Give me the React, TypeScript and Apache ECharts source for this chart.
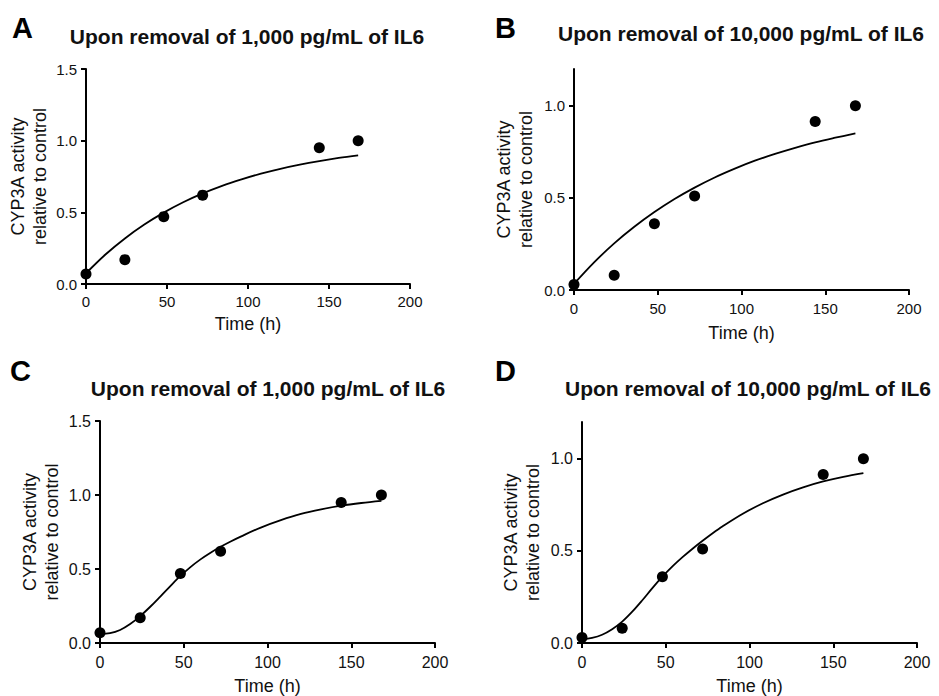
import React, { useEffect, useRef } from "react";
import * as echarts from "echarts";

// ---- text ----
const panelLetters = ["A", "B", "C", "D"];
const panelTitles = [
  "Upon removal of 1,000 pg/mL of IL6",
  "Upon removal of 10,000 pg/mL of IL6",
  "Upon removal of 1,000 pg/mL of IL6",
  "Upon removal of 10,000 pg/mL of IL6",
];
const yAxisName = "CYP3A activity\nrelative to control";
const xAxisName = "Time (h)";

// ---- ticks ----
const xTicks = [0, 50, 100, 150, 200];
const yTicks15 = [0, 0.5, 1.0, 1.5];
const yTicks12 = [0, 0.5, 1.0];

// ---- measured data ----
const sampleTimes = [0, 24, 48, 72, 144, 168];
const activity1000 = [0.07, 0.17, 0.47, 0.62, 0.95, 1.0];
const activity10000 = [0.03, 0.08, 0.36, 0.51, 0.915, 1.0];

// ---- fitted curves ----
const fitTimesExp = [0, 12, 24, 36, 48, 60, 72, 84, 96, 108, 120, 132, 144, 156, 168];
const fitExp1000 = [0.075, 0.206, 0.318, 0.415, 0.498, 0.57, 0.632, 0.685, 0.73, 0.77, 0.804, 0.833, 0.858, 0.88, 0.898];
const fitExp10000 = [0.033, 0.15, 0.253, 0.343, 0.423, 0.494, 0.556, 0.611, 0.659, 0.702, 0.739, 0.772, 0.802, 0.827, 0.85];

const fitTimesSig = [0, 6, 12, 18, 24, 30, 36, 42, 48, 54, 60, 66, 72, 78, 84, 96, 108, 120, 132, 144, 156, 168];
const fitSig1000 = [0.06, 0.066, 0.088, 0.128, 0.182, 0.245, 0.314, 0.385, 0.453, 0.513, 0.565, 0.61, 0.65, 0.686, 0.719, 0.78, 0.83, 0.872, 0.903, 0.928, 0.946, 0.96];
const fitSig10000 = [0.02, 0.028, 0.045, 0.075, 0.116, 0.17, 0.232, 0.298, 0.36, 0.416, 0.466, 0.512, 0.555, 0.596, 0.634, 0.702, 0.759, 0.806, 0.845, 0.877, 0.902, 0.922];

const FONT = "'Liberation Sans', Arial, Helvetica, sans-serif";

const zip = (xs: number[], ys: number[]) => xs.map((x, i) => [x, ys[i]]);

export default function App() {
  const ref = useRef<HTMLDivElement>(null);

  useEffect(() => {
    document.body.style.margin = "0";
    if (!ref.current) return;
    const chart = echarts.init(ref.current, null, { renderer: "svg" });

    const panels = [
      { grid: { left: 86, top: 69, width: 324, height: 215 }, yMax: 1.5, yTicks: yTicks15, fs: 15, yGap: 35, xGap: 31, lblMargin: 10,
        pts: activity1000, fitX: fitTimesExp, fitY: fitExp1000,
        letter: { x: 12, y: 28 }, title: { x: 247, y: 36 } },
      { grid: { left: 574, top: 69, width: 335, height: 221 }, yMax: 1.2, yTicks: yTicks12, fs: 15, yGap: 37, xGap: 34, lblMargin: 11,
        pts: activity10000, fitX: fitTimesExp, fitY: fitExp10000,
        letter: { x: 495, y: 28 }, title: { x: 741, y: 33 } },
      { grid: { left: 100, top: 421, width: 335, height: 223 }, yMax: 1.5, yTicks: yTicks15, fs: 16, yGap: 37, xGap: 34, lblMargin: 11,
        pts: activity1000, fitX: fitTimesSig, fitY: fitSig1000,
        letter: { x: 10, y: 371 }, title: { x: 268, y: 388 } },
      { grid: { left: 582, top: 422, width: 335, height: 222 }, yMax: 1.2, yTicks: yTicks12, fs: 16, yGap: 38, xGap: 34, lblMargin: 11,
        pts: activity10000, fitX: fitTimesSig, fitY: fitSig10000,
        letter: { x: 495, y: 371 }, title: { x: 748, y: 388 } },
    ];

    const mkAxisLine = () => ({ show: true, onZero: false, lineStyle: { color: "#000", width: 2 } });
    const mkAxisTick = (vals: number[]) => ({ show: true, length: 5, customValues: vals, lineStyle: { color: "#000", width: 2 } });

    const option: any = {
      animation: false,
      backgroundColor: "#fff",
      textStyle: { fontFamily: FONT },
      grid: panels.map((p) => ({ ...p.grid, containLabel: false })),
      xAxis: panels.map((p, i) => ({
        type: "value",
        gridIndex: i,
        min: 0,
        max: 200,
        interval: 50,
        name: xAxisName,
        nameLocation: "middle",
        nameGap: p.xGap,
        nameTextStyle: { fontSize: 18, color: "#111", fontFamily: FONT },
        axisLine: mkAxisLine(),
        axisTick: mkAxisTick(xTicks),
        axisLabel: { margin: p.lblMargin, fontSize: p.fs, color: "#111", fontFamily: FONT, customValues: xTicks },
        splitLine: { show: false },
      })),
      yAxis: panels.map((p, i) => ({
        type: "value",
        gridIndex: i,
        min: 0,
        max: p.yMax,
        interval: 0.5,
        name: yAxisName,
        nameLocation: "middle",
        nameRotate: 90,
        nameGap: p.yGap,
        nameTextStyle: { fontSize: 18, lineHeight: 22, color: "#111", fontFamily: FONT, align: "center" },
        axisLine: mkAxisLine(),
        axisTick: mkAxisTick(p.yTicks),
        axisLabel: {
          margin: 9,
          fontSize: p.fs,
          color: "#111",
          fontFamily: FONT,
          customValues: p.yTicks,
          formatter: (v: number) => v.toFixed(1),
        },
        splitLine: { show: false },
      })),
      series: panels.flatMap((p, i) => [
        {
          type: "line",
          xAxisIndex: i,
          yAxisIndex: i,
          data: zip(p.fitX, p.fitY),
          smooth: 0.35,
          symbol: "none",
          clip: false,
          lineStyle: { color: "#000", width: 1.8 },
          z: 3,
        },
        {
          type: "scatter",
          xAxisIndex: i,
          yAxisIndex: i,
          data: zip(sampleTimes, p.pts),
          symbol: "circle",
          symbolSize: 11,
          clip: false,
          itemStyle: { color: "#000", opacity: 1 },
          z: 4,
        },
      ]),
      graphic: panels.flatMap((p, i) => [
        {
          type: "text",
          left: p.letter.x,
          top: p.letter.y - 15,
          style: { text: panelLetters[i], font: `bold 29px ${FONT}`, fill: "#000" },
        },
        {
          type: "text",
          x: p.title.x,
          y: p.title.y,
          style: {
            text: panelTitles[i],
            font: `bold 21px ${FONT}`,
            fill: "#111",
            textAlign: "center",
            textVerticalAlign: "middle",
          },
        },
      ]),
    };

    chart.setOption(option);
    return () => chart.dispose();
  }, []);

  return (
    <div
      ref={ref}
      style={{ width: 939, height: 696, position: "absolute", left: 0, top: 0 }}
    />
  );
}
